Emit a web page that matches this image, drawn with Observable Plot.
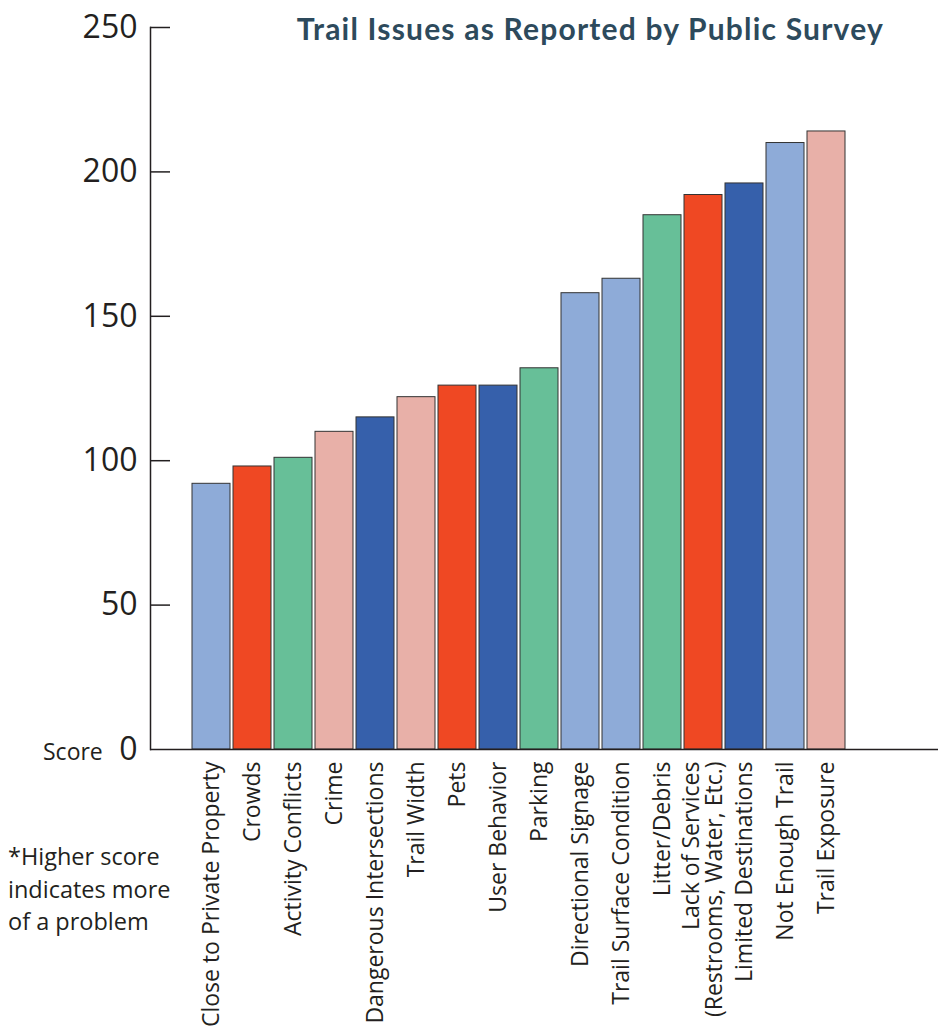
<!DOCTYPE html>
<html>
<head>
<meta charset="utf-8">
<script src="https://cdn.jsdelivr.net/npm/d3@7"></script>
<script src="https://cdn.jsdelivr.net/npm/@observablehq/plot@0.6"></script>
<style>
  html, body { margin: 0; padding: 0; background: #fff; }
  #wrap { position: relative; width: 938px; height: 1036px; overflow: hidden; font-family: "Open Sans", "Noto Sans", sans-serif; }
  #title { position: absolute; top: 13px; right: 54px; font-family: Lato, "Open Sans", sans-serif; font-weight: 700; font-size: 30px; line-height: 30px; letter-spacing: 1.2px; color: #2d4a5c; white-space: nowrap; }
  #score { position: absolute; left: 43px; top: 735px; font-size: 23px; color: #231f20; }
  #note { position: absolute; left: 8px; top: 840px; font-size: 23.5px; line-height: 32.5px; color: #231f20; }
  svg { position: absolute; left: 0; top: 0; }
</style>
</head>
<body>
<div id="wrap">
  <div id="chart"></div>
  <div id="title">Trail Issues as Reported by Public Survey</div>
  <div id="score">Score</div>
  <div id="note">*Higher score<br>indicates more<br>of a problem</div>
</div>
<script>
const categories = [
  "Close to Private Property", "Crowds", "Activity Conflicts", "Crime",
  "Dangerous Intersections", "Trail Width", "Pets", "User Behavior",
  "Parking", "Directional Signage", "Trail Surface Condition", "Litter/Debris",
  "Lack of Services\n(Restrooms, Water, Etc.)", "Limited Destinations",
  "Not Enough Trail", "Trail Exposure"
];
const scores = [92, 98, 101, 110, 115, 122, 126, 126, 132, 158, 163, 185, 192, 196, 210, 214];
const barColors = [
  "#8eabd8", "#ef4823", "#67bf98", "#e8b0a8", "#3660ab", "#e8b0a8", "#ef4823", "#3660ab",
  "#67bf98", "#8eabd8", "#8eabd8", "#67bf98", "#ef4823", "#3660ab", "#8eabd8", "#e8b0a8"
];
const yTicks = [0, 50, 100, 150, 200, 250];

const data = categories.map((c, i) => ({category: c, score: scores[i], color: barColors[i]}));

const W = 938, H = 1036, mL = 150, mT = 27, mB = H - 749;

const chart = Plot.plot({
  width: W,
  height: H,
  marginLeft: mL,
  marginRight: 0,
  marginTop: mT,
  marginBottom: mB,
  style: {fontFamily: "'Open Sans', 'Noto Sans', sans-serif", color: "#231f20", background: "transparent"},
  x: {domain: categories, range: [188, 849.5], paddingInner: 0.07, paddingOuter: 0, label: null},
  y: {domain: [0, 250], label: null},
  marks: [
    Plot.barY(data, {x: "category", y: "score", fill: "color", stroke: "#333", strokeWidth: 1}),
    Plot.frame({anchor: "left", stroke: "#231f20", strokeWidth: 1.5}),
    Plot.ruleY(yTicks.filter(d => d > 0), {stroke: "#231f20", strokeWidth: 1.5, insetRight: W - mL - 20}),
    Plot.ruleY([0], {stroke: "#231f20", strokeWidth: 1.5}),
    Plot.axisY(yTicks, {tickSize: 0, tickPadding: 13, fontSize: 32, label: null, tickFormat: d => String(d), fill: "#231f20"}),
    Plot.axisX({tickSize: 0, tickPadding: 12, tickRotate: -90, fontSize: 23, label: null, fill: "#231f20"})
  ]
});
document.getElementById("chart").appendChild(chart);
</script>
</body>
</html>
